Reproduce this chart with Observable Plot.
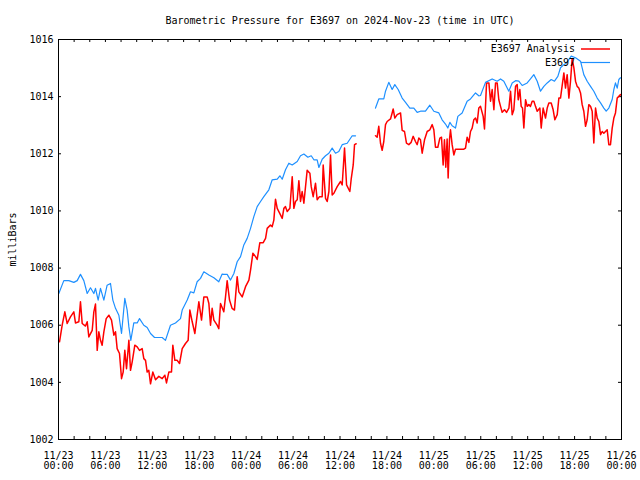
<!DOCTYPE html>
<html><head><meta charset="utf-8">
<script src="https://cdn.jsdelivr.net/npm/d3@7"></script>
<script src="https://cdn.jsdelivr.net/npm/@observablehq/plot@0.6"></script>
<style>body{margin:0;background:#fff}</style>
</head><body><div id="chart"></div>
<script>
const titleText = "Barometric Pressure for E3697 on 2024-Nov-23 (time in UTC)";
const yLabel = "milliBars";
const seriesNames = ["E3697 Analysis", "E3697"];
const seriesColors = ["#ff0000", "#1e90ff"];
const yTicks = [1002, 1004, 1006, 1008, 1010, 1012, 1014, 1016];
const startUTC = [2024, 10, 23];
const spanHours = 72;

// hours since 2024-11-23 00:00 UTC; null marks the data gap
const stationHours = [0.04,0.68,1.32,1.96,2.39,2.81,3.24,3.67,4.09,4.52,4.73,5.07,5.37,5.80,6.22,6.65,6.95,7.29,7.72,8.06,8.48,8.78,9.00,9.25,9.63,10.06,10.36,10.91,11.34,11.77,12.28,12.83,13.26,13.68,14.32,14.96,15.60,15.82,16.46,16.88,17.31,17.73,18.16,18.59,19.23,19.87,20.50,20.93,21.15,21.57,22.00,22.43,22.85,23.28,23.70,24.13,24.56,24.98,25.41,25.84,26.26,26.90,27.33,27.97,28.31,28.61,29.03,29.46,29.89,30.53,30.95,31.38,31.89,32.32,32.66,33.08,33.30,33.72,34.15,34.58,35.00,35.43,35.85,36.28,36.92,37.56,37.99,39.00,40.54,40.96,41.60,41.82,42.24,42.67,43.01,43.44,43.95,44.38,44.93,45.44,45.87,46.29,46.93,47.49,48.00,48.64,49.06,49.49,49.79,50.05,50.34,50.77,51.07,51.62,52.26,52.69,53.33,53.75,53.97,54.61,55.46,56.10,56.53,56.95,57.59,58.02,58.45,58.87,59.30,59.94,60.36,60.79,61.22,61.64,62.07,62.50,63.01,63.43,63.86,64.20,64.63,64.97,65.57,66.12,66.76,67.18,67.61,68.04,68.46,68.89,69.32,69.74,70.04,70.38,70.81,71.02,71.23,71.45,71.66,71.87];
const stationPressure = [1007.11,1007.56,1007.56,1007.50,1007.56,1007.78,1007.56,1007.11,1007.31,1007.11,1007.29,1006.88,1007.29,1006.88,1007.40,1007.46,1006.88,1006.59,1006.35,1005.71,1006.94,1006.53,1005.94,1005.47,1006.08,1006.08,1006.23,1006.00,1005.92,1005.71,1005.57,1005.57,1005.57,1005.47,1006.00,1006.08,1006.23,1006.53,1006.88,1007.17,1007.13,1007.52,1007.64,1007.87,1007.76,1007.66,1007.52,1007.79,1007.78,1007.78,1007.58,1007.81,1008.22,1008.40,1008.81,1009.04,1009.39,1009.80,1010.15,1010.33,1010.50,1010.74,1011.09,1011.11,1011.23,1011.11,1011.44,1011.67,1011.61,1011.73,1011.93,1011.99,1011.88,1011.93,1011.79,1011.79,1011.52,1011.81,1011.93,1012.02,1012.20,1012.02,1012.08,1012.32,1012.37,1012.63,1012.63,null,1013.60,1013.92,1013.92,1014.19,1014.50,1014.25,1014.42,1014.25,1013.95,1013.80,1013.60,1013.60,1013.45,1013.49,1013.49,1013.70,1013.49,1013.43,1013.19,1013.04,1012.90,1013.10,1012.98,1012.90,1013.31,1013.43,1013.84,1013.92,1014.13,1014.03,1014.04,1014.50,1014.62,1014.54,1014.62,1014.54,1014.19,1014.48,1014.56,1014.54,1014.39,1014.48,1014.62,1014.77,1014.54,1014.19,1014.36,1014.48,1014.60,1014.54,1014.71,1015.01,1015.12,1015.18,1015.42,1015.36,1015.24,1014.77,1014.54,1014.36,1014.19,1013.95,1013.78,1013.60,1013.49,1013.60,1013.90,1014.25,1014.48,1014.30,1014.60,1014.66];

const analysisHours = [0.13,0.47,0.81,1.11,1.53,1.96,2.17,2.60,2.81,3.03,3.45,3.67,3.88,4.31,4.52,4.73,4.95,5.16,5.37,5.58,5.80,6.10,6.44,6.78,7.08,7.29,7.50,7.80,8.06,8.27,8.48,8.70,9.00,9.21,9.42,9.76,10.06,10.36,10.70,10.91,11.13,11.34,11.55,11.77,12.06,12.41,12.83,13.26,13.60,13.81,14.11,14.45,14.62,14.88,15.18,15.48,15.82,16.24,16.58,16.80,17.10,17.44,17.73,17.95,18.29,18.59,19.01,19.23,19.44,19.65,19.87,20.29,20.50,20.72,21.14,21.36,21.57,21.87,22.20,22.50,22.85,23.06,23.49,23.92,24.35,24.56,24.86,25.20,25.41,25.75,26.18,26.48,26.69,27.11,27.33,27.54,27.75,27.97,28.39,28.61,28.82,29.03,29.25,29.59,29.67,29.89,30.10,30.31,30.53,30.74,30.95,31.16,31.38,31.80,32.15,32.32,32.57,32.87,33.08,33.38,33.72,33.85,34.15,34.36,34.58,34.79,35.00,35.22,35.64,36.07,36.28,36.58,36.84,37.26,37.43,37.69,37.86,38.07,39.00,40.54,40.75,40.96,41.18,41.39,41.60,41.82,42.03,42.46,42.67,42.80,43.01,43.31,43.74,43.95,44.25,44.50,44.80,45.10,45.36,45.65,45.87,46.08,46.29,46.51,46.81,47.15,47.49,47.79,48.00,48.21,48.51,48.77,48.98,49.19,49.36,49.53,49.70,49.83,50.00,50.13,50.34,50.56,50.77,51.41,51.84,52.05,52.26,52.48,52.69,52.90,53.11,53.33,53.54,53.75,53.97,54.31,54.48,54.74,55.04,55.25,55.46,55.68,55.89,56.10,56.31,56.53,56.74,57.04,57.30,57.60,57.81,58.02,58.23,58.45,58.66,58.79,59.00,59.17,59.34,59.51,59.73,59.94,60.15,60.36,60.58,60.79,61.00,61.22,61.56,61.73,61.98,62.28,62.50,62.71,63.01,63.26,63.48,63.78,63.99,64.20,64.63,64.84,65.05,65.27,65.48,65.69,65.91,66.12,66.33,66.54,66.76,66.97,67.18,67.40,67.61,67.82,68.04,68.25,68.46,68.68,68.89,69.10,69.32,69.53,69.74,70.17,70.38,70.59,70.81,71.02,71.23,71.45,71.66,71.87];
const analysisPressure = [1005.42,1006.00,1006.47,1006.06,1006.29,1006.47,1006.08,1006.12,1006.82,1006.06,1005.97,1006.12,1005.59,1005.82,1006.47,1006.74,1005.12,1005.77,1005.47,1005.30,1005.77,1006.23,1006.35,1006.18,1005.65,1005.77,1005.18,1005.01,1004.13,1004.36,1005.12,1004.48,1005.47,1004.42,1004.71,1005.30,1005.24,1005.12,1005.18,1004.83,1004.77,1004.36,1004.42,1003.95,1004.36,1004.09,1004.21,1004.13,1004.25,1003.98,1004.36,1004.36,1005.30,1004.77,1004.77,1004.66,1005.18,1005.36,1005.47,1006.53,1006.12,1005.71,1006.35,1006.82,1006.18,1006.99,1006.99,1006.76,1006.00,1006.59,1006.18,1006.00,1005.88,1006.76,1006.47,1006.99,1007.56,1006.88,1006.59,1006.53,1007.70,1007.17,1006.99,1007.35,1007.58,1007.93,1008.52,1008.40,1008.30,1008.89,1008.89,1009.04,1009.39,1009.51,1009.45,1009.68,1010.41,1010.09,1009.86,1009.74,1010.09,1010.15,1009.98,1010.09,1010.39,1011.20,1010.09,1010.33,1010.39,1011.06,1010.33,1010.68,1010.27,1011.42,1011.32,1010.85,1010.50,1010.97,1010.39,1010.50,1010.50,1011.61,1010.44,1010.33,1010.68,1011.96,1010.56,1010.62,1010.85,1011.03,1010.91,1012.20,1010.91,1010.68,1011.11,1011.61,1012.32,1012.35,null,1012.63,1012.58,1012.96,1012.37,1012.12,1012.43,1013.02,1013.13,1013.22,1013.43,1013.57,1013.25,1013.37,1013.43,1012.82,1012.78,1012.37,1012.32,1012.40,1012.61,1012.43,1012.32,1012.55,1012.49,1012.02,1012.49,1012.78,1012.84,1013.02,1012.84,1012.23,1012.23,1012.55,1012.58,1011.61,1012.49,1011.53,1012.52,1011.15,1012.49,1012.84,1012.32,1011.96,1012.16,1012.16,1012.16,1012.20,1012.58,1012.40,1012.78,1012.90,1013.19,1013.25,1013.08,1013.60,1013.66,1013.31,1012.87,1014.48,1014.48,1013.84,1014.25,1013.54,1014.48,1014.48,1013.89,1013.66,1013.45,1013.54,1013.45,1013.60,1014.19,1013.37,1013.54,1014.36,1014.42,1013.89,1014.25,1013.66,1013.60,1012.90,1013.89,1013.66,1013.72,1013.66,1013.84,1013.84,1013.66,1013.49,1013.60,1012.90,1013.60,1013.25,1013.60,1013.78,1013.78,1013.54,1013.19,1013.37,1013.95,1013.95,1014.83,1014.30,1014.77,1013.95,1014.54,1015.33,1015.01,1014.54,1014.36,1014.30,1014.13,1013.72,1013.49,1012.96,1013.19,1013.72,1013.66,1013.49,1012.38,1013.60,1013.25,1013.13,1012.67,1012.78,1012.72,1012.84,1012.32,1012.32,1012.90,1013.25,1013.43,1013.95,1014.01,1014.07];

const font = "DejaVu Sans Mono";
const t0 = Date.UTC(...startUTC);
const toDate = h => new Date(t0 + h * 3600e3);
const analysis = analysisHours.map((h, i) => ({date: toDate(h), value: analysisPressure[i]}));
const station = stationHours.map((h, i) => ({date: toDate(h), value: stationPressure[i]}));
const majorTicks = d3.utcHour.every(6).range(toDate(0), toDate(spanHours + 0.01));
const minorTicks = d3.utcHour.every(2).range(toDate(2), toDate(spanHours));
const fmt = d3.utcFormat("%m/%d\n%H:%M");

const W = 640, H = 480, ML = 58, MR = 19, MT = 39, MB = 41;
const fw = W - ML - MR, fh = H - MT - MB, tk = 3;

const legend = (index, scales, values, dims) => {
  const right = dims.width - dims.marginRight;
  const top = dims.marginTop;
  const g = d3.create("svg:g").attr("font-family", font).attr("font-size", 10);
  seriesNames.forEach((name, i) => {
    const y = top + 10 + i * 13.5;
    g.append("text").attr("x", right - 46).attr("y", y).attr("dy", "0.32em")
      .attr("text-anchor", "end").attr("fill", "black").text(name);
    g.append("line").attr("x1", right - 40).attr("x2", right - 11)
      .attr("y1", y).attr("y2", y).attr("stroke", seriesColors[i]).attr("stroke-width", i === 0 ? 1.5 : 1.2);
  });
  return g.node();
};

const plot = Plot.plot({
  width: W, height: H, marginLeft: ML, marginRight: MR, marginTop: MT, marginBottom: MB,
  style: {fontFamily: font, fontSize: "10px", background: "#fff", color: "#000"},
  x: {type: "utc", domain: [toDate(0), toDate(spanHours)]},
  y: {domain: [yTicks[0], yTicks[yTicks.length - 1]]},
  marks: [
    Plot.axisY(yTicks, {tickSize: 0, tickPadding: 5, label: null, tickFormat: d => String(d)}),
    Plot.axisX(majorTicks, {tickSize: 0, tickPadding: 12, label: null, tickFormat: fmt, lineHeight: 1.05}),
    Plot.tickX(minorTicks, {x: d => d, insetTop: fh - tk, stroke: "black"}),
    Plot.tickX(minorTicks, {x: d => d, insetBottom: fh - tk, stroke: "black"}),
    Plot.tickY(yTicks, {y: d => d, insetRight: fw - tk, stroke: "black"}),
    Plot.tickY(yTicks, {y: d => d, insetLeft: fw - tk, stroke: "black"}),
    Plot.line(analysis, {x: "date", y: "value", stroke: seriesColors[0], strokeWidth: 1.5}),
    Plot.line(station, {x: "date", y: "value", stroke: seriesColors[1], strokeWidth: 1.2}),
    Plot.frame({stroke: "black"}),
    Plot.text([titleText], {text: d => d, frameAnchor: "top", lineAnchor: "middle", dy: -19, fill: "black"}),
    Plot.text([yLabel], {text: d => d, frameAnchor: "left", textAnchor: "middle", lineAnchor: "middle", rotate: -90, dx: -46, fill: "black"}),
    legend
  ]
});
document.getElementById("chart").appendChild(plot);
</script>
</body></html>
